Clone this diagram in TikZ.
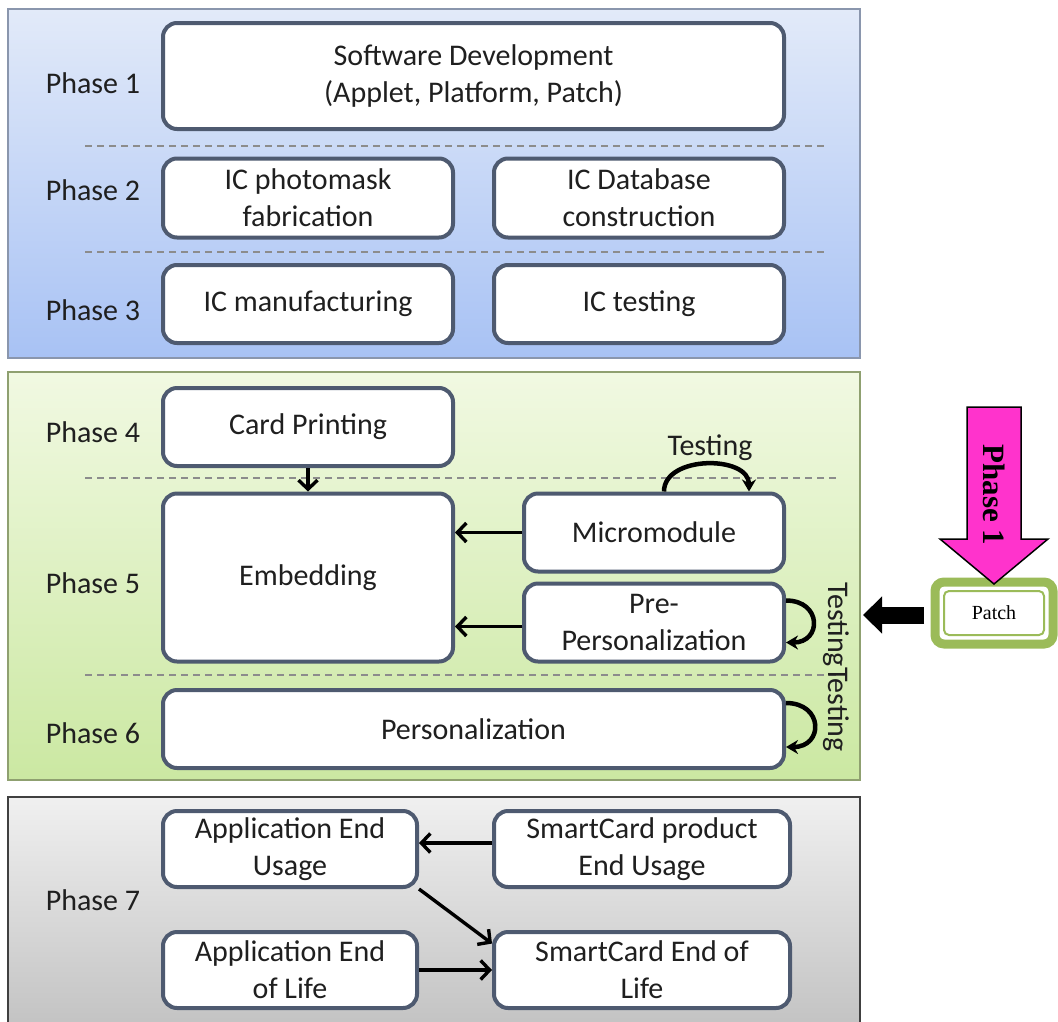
\documentclass[tikz,border=0pt]{standalone}
\usepackage{fontspec}
\setmainfont{Carlito}
\newfontfamily\timesfont{Liberation Serif}
\usetikzlibrary{arrows.meta, positioning}

\definecolor{boxline}{HTML}{4E5A70}
\definecolor{bluetop}{HTML}{E2EAF9}
\definecolor{bluebot}{HTML}{A8C2F4}
\definecolor{blueline}{HTML}{8A96AD}
\definecolor{greentop}{HTML}{F1F9E2}
\definecolor{greenbot}{HTML}{CBE8A2}
\definecolor{greenline}{HTML}{8FA070}
\definecolor{greytop}{HTML}{F0F0F0}
\definecolor{greybot}{HTML}{C2C2C2}
\definecolor{greyline}{HTML}{404040}
\definecolor{sepgrey}{HTML}{8C8C8C}
\definecolor{patchgreen}{HTML}{9BBB59}
\definecolor{arrowpink}{HTML}{FF33CC}

\begin{document}
\begin{tikzpicture}[
    x=1pt, y=-1pt,
    every node/.style={font=\fontsize{30}{37}\selectfont, text=black!88},
    box/.style={draw=boxline, line width=4pt, rounded corners=14pt, fill=white, align=center, inner sep=2pt},
    sep/.style={draw=sepgrey, line width=1.5pt, dash pattern=on 7pt off 5pt},
    flow/.style={line width=3.4pt, -{Straight Barb[length=9pt, width=19pt]}},
    testloop/.style={line width=4.5pt, -{Stealth[length=12pt, width=14pt]}},
    fatarrow/.style={line width=17pt, -{Triangle[length=19pt, width=36pt]}}
]
    \useasboundingbox (0,0) rectangle (1058,1021);

    % Panels
    \draw[draw=blueline, line width=2pt, top color=bluetop, bottom color=bluebot] (8,9) rectangle (860,358);
    \draw[draw=greenline, line width=2pt, top color=greentop, bottom color=greenbot] (8,372) rectangle (860,780);
    \draw[draw=greyline, line width=2pt, top color=greytop, bottom color=greybot] (8,797) rectangle (860,1030);

    % Separators
    \foreach \y in {146, 252} {
        \draw[sep] (85,\y) -- (825,\y);
    }
    \foreach \y in {478, 675} {
        \draw[sep] (85,\y) -- (840,\y);
    }

    % Phase labels
    \foreach \n/\y in {1/83, 2/190, 3/310, 4/432, 5/583, 6/733, 7/900} {
        \node (ph\n) at (93,\y) {Phase \n};
    }

    % Phases 1-3
    \node[box, minimum width=621, minimum height=106] (sw) at (473.5,76) {Software Development\\(Applet, Platform, Patch)};
    \node[box, minimum width=290, minimum height=79] (photo) at (308,198) {IC photomask\\fabrication};
    \node[box, minimum width=290, minimum height=79] (db) at (639,198) {IC Database\\construction};
    \node[box, minimum width=290, minimum height=78] (manuf) at (308,304) {IC manufacturing};
    \node[box, minimum width=290, minimum height=78] (ictest) at (639,304) {IC testing};

    % Phases 4-6
    \node[box, minimum width=290, minimum height=78] (card) at (308,427) {Card Printing};
    \node[box, minimum width=290, minimum height=168] (embed) at (308,577.5) {Embedding};
    \node[box, minimum width=260, minimum height=78] (micro) at (654,532.5) {Micromodule};
    \node[box, minimum width=260, minimum height=78] (prepers) at (654,622.5) {Pre-\\Personalization};
    \node[box, minimum width=621, minimum height=78] (pers) at (473.5,729) {Personalization};

    % Phase 7
    \node[box, minimum width=254, minimum height=76] (appUse) at (290,849) {Application End\\Usage};
    \node[box, minimum width=296, minimum height=76] (scUse) at (642,849) {SmartCard product\\End Usage};
    \node[box, minimum width=254, minimum height=76] (appEol) at (290,970) {Application End\\of Life};
    \node[box, minimum width=296, minimum height=76] (scEol) at (642,970) {SmartCard End of\\Life};

    % Flow
    \draw[flow] (card) -- (embed);
    \draw[flow] (micro.west) -- (micro.west -| embed.east);
    \draw[flow] ([yshift=-4pt]prepers.west) -- ([yshift=-4pt]prepers.west -| embed.east);
    \draw[flow] ([yshift=6pt]scUse.west) -- ([yshift=6pt]scUse.west -| appUse.east);
    \draw[flow] (appUse.south east) -- (scEol.170);
    \draw[flow] (appEol) -- (scEol);

    % Testing loops
    \draw[testloop] ([xshift=10pt]micro.north) to[out=90, in=90, looseness=1.1] ([xshift=95pt]micro.north);
    \node (testLbl) at (710,448) {Testing};
    \draw[testloop] ([yshift=22pt]prepers.east) to[out=0, in=0, looseness=2.2] ([yshift=-20pt]prepers.east);
    \draw[testloop] ([yshift=26pt]pers.east) to[out=0, in=0, looseness=2.2] ([yshift=-18pt]pers.east);
    \node[rotate=-90] (testV) at (836,667) {TestingTesting};

    % Patch
    \node[draw=patchgreen, line width=2pt, rounded corners=5pt, fill=white, minimum width=100, minimum height=44,
          font=\timesfont\fontsize{20}{24}\selectfont, text=black] (patch) at (994,613) {Patch};
    \draw[patchgreen, line width=9pt, rounded corners=9pt] ([shift={(-8,-8)}]patch.north west) rectangle ([shift={(8,8)}]patch.south east);
    \coordinate (tip) at ([yshift=6pt]patch.north);
    \draw[fill=arrowpink, line width=1.5pt, line join=miter] (tip) -- ++(-54,-45) -- ++(27,0) -- ++(0,-132) -- ++(54,0) -- ++(0,132) -- ++(27,0) -- cycle;
    \node[rotate=-90, font=\timesfont\bfseries\fontsize{31}{36}\selectfont, text=black] (p1v) at (994,495) {Phase 1};
    \coordinate (patchTip) at (863,615);
    \draw[fatarrow] ([xshift=-19pt, yshift=-2pt]patch.west) -- (patchTip);

\end{tikzpicture}
\end{document}
